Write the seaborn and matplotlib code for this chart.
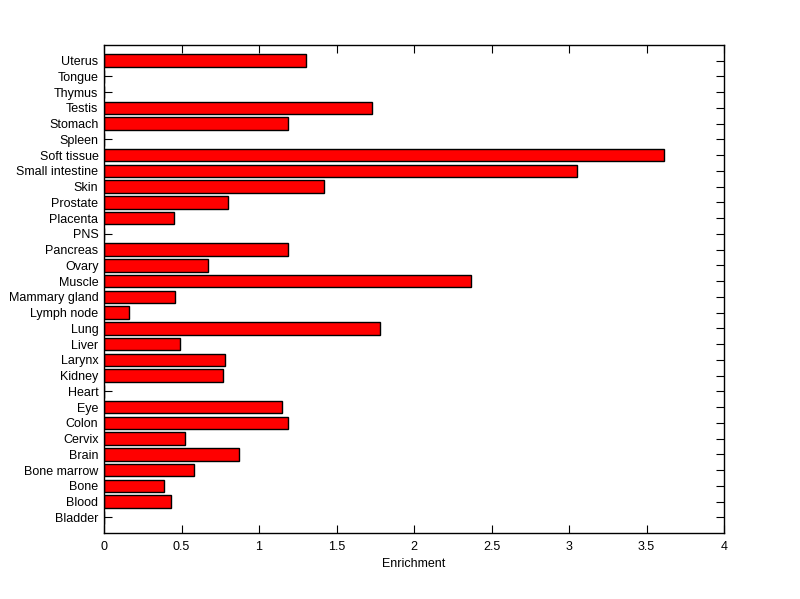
import pandas as pd
import matplotlib
matplotlib.use('Agg')
import matplotlib.pyplot as plt
import seaborn as sns

# tissues listed top to bottom as in the figure
tissues = ['Uterus', 'Tongue', 'Thymus', 'Testis', 'Stomach', 'Spleen',
           'Soft tissue', 'Small intestine', 'Skin', 'Prostate', 'Placenta',
           'PNS', 'Pancreas', 'Ovary', 'Muscle', 'Mammary gland', 'Lymph node',
           'Lung', 'Liver', 'Larynx', 'Kidney', 'Heart', 'Eye', 'Colon',
           'Cervix', 'Brain', 'Bone marrow', 'Bone', 'Blood', 'Bladder']
enrichment = [1.30, 0.0, 0.0, 1.73, 1.19, 0.0,
              3.61, 3.05, 1.42, 0.80, 0.45,
              0.0, 1.19, 0.67, 2.37, 0.46, 0.164,
              1.78, 0.49, 0.78, 0.77, 0.0, 1.15, 1.19,
              0.52, 0.87, 0.58, 0.39, 0.43, 0.0]
x_ticks = [0, 0.5, 1, 1.5, 2, 2.5, 3, 3.5, 4]
x_ticklabels = ['0', '0.5', '1', '1.5', '2', '2.5', '3', '3.5', '4']

df = pd.DataFrame({'Tissue': tissues, 'Enrichment': enrichment})

sns.set_style('white')
plt.rcParams['font.family'] = ['Liberation Sans', 'DejaVu Sans']
plt.rcParams['text.color'] = 'black'
plt.rcParams['axes.labelcolor'] = 'black'
plt.rcParams['xtick.color'] = 'black'
plt.rcParams['ytick.color'] = 'black'

fig = plt.figure(figsize=(8.0, 5.99), dpi=100)
ax = fig.add_axes([0.13, 0.11, 0.775, 0.815])

sns.barplot(data=df, x='Enrichment', y='Tissue', orient='h', order=tissues,
            color='#ff0000', saturation=1, edgecolor='black', linewidth=1.0,
            width=0.8, ax=ax)

ax.set_xlim(0, 4)
ax.set_ylim(len(tissues), -1)
ax.set_xticks(x_ticks)
ax.set_xticklabels(x_ticklabels)
ax.set_xlabel('Enrichment', fontsize=9, labelpad=3, color='black')
ax.set_ylabel('')

for s in ax.spines.values():
    s.set_visible(True)
    s.set_color('black')
    s.set_linewidth(1.0)

ax.tick_params(axis='both', direction='in', length=6, width=0.8, color='black',
               labelcolor='black', labelsize=9, top=True, right=True,
               left=True, bottom=True)
ax.tick_params(axis='x', pad=6)
ax.tick_params(axis='y', pad=4)

plt.savefig('out.png', dpi=100, facecolor='white')
